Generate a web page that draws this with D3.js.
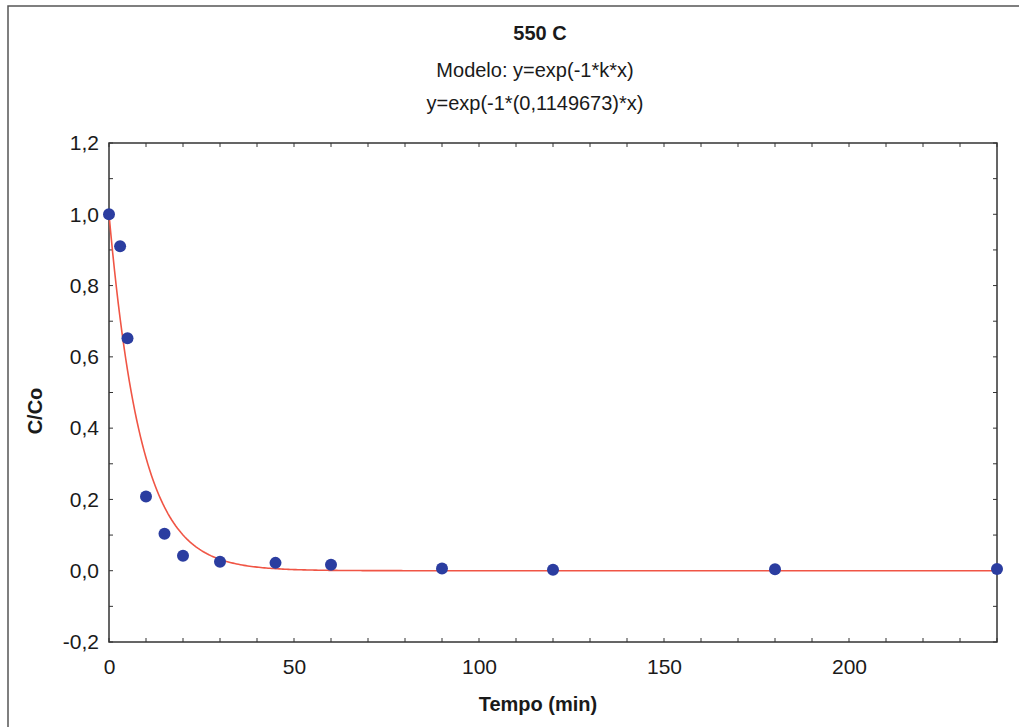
<!DOCTYPE html>
<html><head><meta charset="utf-8">
<script src="https://cdn.jsdelivr.net/npm/d3@7"></script>
<style>body{margin:0;background:#fff}svg{display:block}text{font-family:"Liberation Sans",Arial,sans-serif;fill:#1a1a1a}</style>
</head><body>
<svg id="c" width="1019" height="727"></svg>
<script>
const titleLines = ["550 C", "Modelo: y=exp(-1*k*x)", "y=exp(-1*(0,1149673)*x)"];
const xLabel = "Tempo (min)";
const yLabel = "C/Co";
const timeMin = [0, 3, 5, 10, 15, 20, 30, 45, 60, 90, 120, 180, 240];
const ratioCC0 = [1.0, 0.91, 0.652, 0.208, 0.104, 0.042, 0.025, 0.022, 0.017, 0.006, 0.003, 0.004, 0.005];
const kFit = 0.1149673;
const xTicks = [0, 50, 100, 150, 200];
const yTicks = [-0.2, 0, 0.2, 0.4, 0.6, 0.8, 1.0, 1.2];

const svg = d3.select("#c");
const L = 109, R = 997, T = 143, B = 642;
const x = d3.scaleLinear().domain([0, 240]).range([L, R]);
const y = d3.scaleLinear().domain([-0.2, 1.2]).range([B, T]);
const fmt = v => d3.format(".1f")(v).replace(".", ",").replace("−", "-");
const FF = '"Liberation Sans",Arial,sans-serif';

// outer frame
svg.append("path").attr("d", "M8,727 L8,6 L1019,6").attr("fill", "none").attr("stroke", "#555").attr("stroke-width", 1.5);

// titles
svg.append("text").attr("x", 540).attr("y", 40).attr("text-anchor", "middle").attr("font-size", 20).attr("font-weight", "bold").text(titleLines[0]);
svg.append("text").attr("x", 535).attr("y", 77).attr("text-anchor", "middle").attr("font-size", 20).text(titleLines[1]);
svg.append("text").attr("x", 535).attr("y", 110).attr("text-anchor", "middle").attr("font-size", 20).text(titleLines[2]);

// minor ticks inside
const minorX = d3.range(0, 241, 10);
const minorY = d3.range(-0.2, 1.2001, 0.1);
const tk = svg.append("g").attr("stroke", "#333").attr("stroke-width", 1);
minorX.forEach(v => {
  tk.append("line").attr("x1", x(v)).attr("x2", x(v)).attr("y1", B).attr("y2", B - 4);
  tk.append("line").attr("x1", x(v)).attr("x2", x(v)).attr("y1", T).attr("y2", T + 4);
});
minorY.forEach(v => {
  tk.append("line").attr("x1", L).attr("x2", L + 4).attr("y1", y(v)).attr("y2", y(v));
  tk.append("line").attr("x1", R).attr("x2", R - 4).attr("y1", y(v)).attr("y2", y(v));
});

// tick labels via d3 axes
const gx = svg.append("g").attr("transform", `translate(0,${B})`)
  .call(d3.axisBottom(x).tickValues(xTicks).tickSize(0).tickPadding(17).tickFormat(d3.format("d")));
gx.select(".domain").remove();
gx.selectAll("text").attr("font-size", 21).style("font-family", FF).attr("fill", "#1a1a1a");
const gy = svg.append("g").attr("transform", `translate(${L},0)`)
  .call(d3.axisLeft(y).tickValues(yTicks).tickSize(0).tickPadding(10).tickFormat(fmt));
gy.select(".domain").remove();
gy.selectAll("text").attr("font-size", 21).style("font-family", FF).attr("fill", "#1a1a1a");

// plot frame
svg.append("rect").attr("x", L).attr("y", T).attr("width", R - L).attr("height", B - T)
  .attr("fill", "none").attr("stroke", "#333").attr("stroke-width", 1.5);

// fitted curve
const curveX = d3.range(0, 240.01, 0.5);
svg.append("path").datum(curveX)
  .attr("d", d3.line().x(d => x(d)).y(d => y(Math.exp(-kFit * d))))
  .attr("fill", "none").attr("stroke", "#f05545").attr("stroke-width", 1.6);

// points
svg.append("g").selectAll("circle").data(timeMin).join("circle")
  .attr("cx", d => x(d)).attr("cy", (d, i) => y(ratioCC0[i])).attr("r", 6).attr("fill", "#2b3da0");

// axis titles
svg.append("text").attr("x", 538).attr("y", 711).attr("text-anchor", "middle").attr("font-size", 20).attr("font-weight", "bold").text(xLabel);
svg.append("text").attr("transform", "translate(42,411) rotate(-90)").attr("text-anchor", "middle").attr("font-size", 20).attr("font-weight", "bold").text(yLabel);
</script>
</body></html>
